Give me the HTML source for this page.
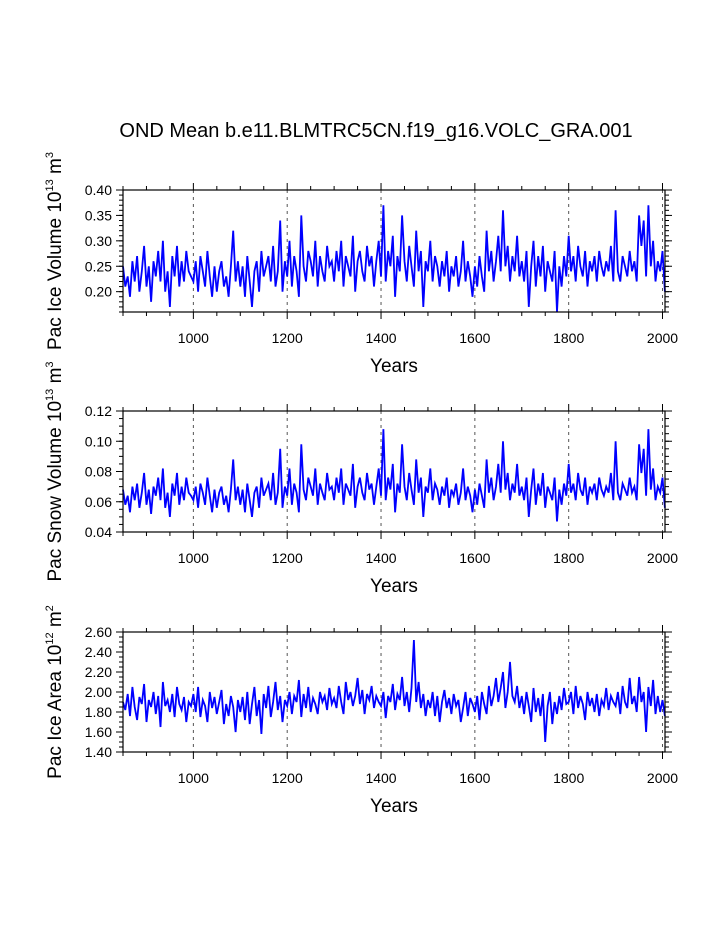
<!DOCTYPE html>
<html><head><meta charset="utf-8"><style>
body{margin:0;background:#fff;}
svg{display:block;font-family:"Liberation Sans",sans-serif;}
</style></head><body>
<svg id="c" width="723" height="935">
<text x="376" y="137" font-size="20" text-anchor="middle">OND Mean b.e11.BLMTRC5CN.f19_g16.VOLC_GRA.001</text>
</svg>
<script>
const startYear = 850, stepYears = 5;
const iceVolume = [25,21,23,19,26,22,27,20,24,29,21,25,18,26,23,28,22,30,20,24,17,27,23,29,21,26,22,28,24,23,
22,26,20,27,24,21,28,23,19,25,20,24,26,21,23,19,25,32,22,26,
21,25,19,27,22,17,24,26,20,28,23,25,27,22,29,21,24,34,20,26,
23,30,21,27,24,19,35,25,22,28,26,23,30,21,27,24,22,29,25,26,
22,28,24,30,21,27,25,23,31,20,26,28,24,22,29,25,27,21,26,30,
23,37,22,28,25,31,19,27,24,35,26,22,29,25,21,32,24,28,17,26,
24,30,22,27,25,21,26,23,28,20,25,23,27,21,24,30,22,26,23,19,
25,21,27,23,20,32,24,28,22,26,31,24,36,25,29,22,27,24,31,23,
26,22,28,17,25,30,21,27,23,29,20,26,24,22,28,16,25,21,27,23,
31,24,27,22,29,25,23,28,21,26,24,27,22,28,25,23,26,24,29,22,
36,24,22,27,25,23,28,24,26,22,35,29,34,23,37,25,30,22,26,24,28,20].map(v=>v/100);
const snowVolume = [68,58,64,53,70,61,72,56,66,79,58,68,52,70,64,76,61,82,56,66,50,72,64,79,58,70,61,76,66,64,
61,70,56,72,66,58,76,64,53,68,56,66,70,58,64,53,68,88,61,70,
58,68,53,72,61,50,66,70,56,76,64,68,72,61,79,58,66,95,56,70,
64,82,58,72,66,53,98,68,61,76,70,64,82,58,72,66,61,79,68,70,
61,76,66,82,58,72,68,64,85,56,70,76,66,61,79,68,72,58,70,82,
64,108,61,76,68,85,53,72,66,98,70,61,79,68,58,88,66,76,50,70,
66,82,61,72,68,58,70,64,76,56,68,64,72,58,66,82,61,70,64,53,
68,58,72,64,56,88,66,76,61,70,85,66,100,68,79,61,72,66,85,64,
70,61,76,50,68,82,58,72,64,79,56,70,66,61,76,47,68,58,72,64,
85,66,72,61,79,68,64,76,58,70,66,72,61,76,68,64,70,66,79,61,
100,66,61,72,68,64,76,66,70,61,98,79,95,64,108,68,82,61,70,66,76,56].map(v=>v/1000);
const iceArea = [190,182,198,176,205,185,172,195,188,208,170,192,185,200,178,196,165,210,186,192,180,198,175,205,188,182,195,170,190,186,
198,180,205,175,192,186,170,200,184,195,178,190,202,168,188,176,196,185,160,192,
180,195,172,200,168,188,205,176,192,158,198,184,206,175,190,210,182,196,170,192,
186,200,178,196,190,212,175,198,184,205,180,194,188,178,200,190,196,182,204,188,
194,184,206,190,178,210,192,200,186,196,214,188,202,178,198,192,206,184,196,190,
186,200,174,196,190,208,182,198,192,215,186,200,180,204,252,190,210,184,198,176,
192,184,200,176,196,170,190,202,184,194,178,198,186,192,170,184,200,176,194,188,
180,196,172,200,188,178,206,186,196,214,190,204,220,184,200,230,196,190,206,184,
196,178,200,186,170,204,180,194,176,198,150,186,200,168,190,178,196,182,204,188,
190,200,178,206,184,196,188,172,200,186,194,180,198,176,192,186,204,182,196,190,
186,200,178,206,190,184,214,188,196,180,215,190,200,160,205,186,212,178,196,180,192,176].map(v=>v/100);
const xTicks = [1000,1200,1400,1600,1800,2000];
const yTicks1 = ["0.20","0.25","0.30","0.35","0.40"];
const yTicks2 = ["0.04","0.06","0.08","0.10","0.12"];
const yTicks3 = ["1.40","1.60","1.80","2.00","2.20","2.40","2.60"];

const svg=document.getElementById('c');
const NS='http://www.w3.org/2000/svg';
function mk(tag,attrs,parent){const e=document.createElementNS(NS,tag);for(const k in attrs)e.setAttribute(k,attrs[k]);(parent||svg).appendChild(e);return e;}
const X0=123,X1=665,Y0=850,Y1=2005.3;
const xs=y=>X0+(y-Y0)*(X1-X0)/(Y1-Y0);

function panel(name,top,bot,ymin,ymax,minorStep,ticks,data,label,sup){
  const g=mk('g',{});
  
  
  const ys=v=>bot-(v-ymin)*(bot-top)/(ymax-ymin);
  xTicks.forEach(t=>{mk('line',{x1:xs(t),x2:xs(t),y1:top,y2:bot,stroke:'#555','stroke-width':1,'stroke-dasharray':'3,4'},g);});
  let pts=data.map((v,i)=>xs(startYear+i*stepYears).toFixed(1)+','+ys(v).toFixed(1)).join(' ');
  const line=mk('polyline',{points:pts,fill:'none',stroke:'#0000ff','stroke-width':1.8},g);
  
  
  mk('rect',{x:X0,y:top,width:X1-X0,height:bot-top,fill:'none',stroke:'#000','stroke-width':1.2},g);
  for(let yr=850;yr<=2000;yr+=50){const maj=yr%200===0;const L=maj?7:4;
    mk('line',{x1:xs(yr),x2:xs(yr),y1:top,y2:top-L,stroke:'#000'},g);
    mk('line',{x1:xs(yr),x2:xs(yr),y1:bot,y2:bot+L,stroke:'#000'},g);}
  for(let v=Math.ceil(ymin/minorStep-1e-6)*minorStep;v<=ymax+1e-9;v+=minorStep){
    mk('line',{x1:X0,x2:X0-4,y1:ys(v),y2:ys(v),stroke:'#000'},g);
    mk('line',{x1:X1,x2:X1+4,y1:ys(v),y2:ys(v),stroke:'#000'},g);}
  ticks.forEach(t=>{const v=parseFloat(t);
    mk('line',{x1:X0,x2:X0-7,y1:ys(v),y2:ys(v),stroke:'#000'},g);
    mk('line',{x1:X1,x2:X1+7,y1:ys(v),y2:ys(v),stroke:'#000'},g);
    const tx=mk('text',{x:X0-11,y:ys(v)+5,'font-size':14,'text-anchor':'end'},g);tx.textContent=t;
    
    });
  xTicks.forEach(t=>{const tx=mk('text',{x:xs(t),y:bot+31,'font-size':14,'text-anchor':'middle'},g);tx.textContent=t;
    
    });
  const xt=mk('text',{x:394,y:bot+60,'font-size':19,'text-anchor':'middle'},g);xt.textContent='Years';
  
  
  const cy=(top+bot)/2;
  const yt=mk('text',{x:0,y:0,'font-size':19,'text-anchor':'middle',transform:`translate(61,${cy}) rotate(-90)`},g);
  
  
  yt.innerHTML=label+' 10<tspan dy="-8" font-size="11">'+sup[0]+'</tspan><tspan dy="8"> m</tspan><tspan dy="-8" font-size="11">'+sup[1]+'</tspan>';
}
panel('ice-volume-panel',190,312,0.16,0.40,0.01,yTicks1,iceVolume,'Pac Ice Volume',['13','3']);
panel('snow-volume-panel',411,532,0.04,0.12,0.005,yTicks2,snowVolume,'Pac Snow Volume',['13','3']);
panel('ice-area-panel',632,752,1.40,2.60,0.05,yTicks3,iceArea,'Pac Ice Area',['12','2']);
</script>
</body></html>
